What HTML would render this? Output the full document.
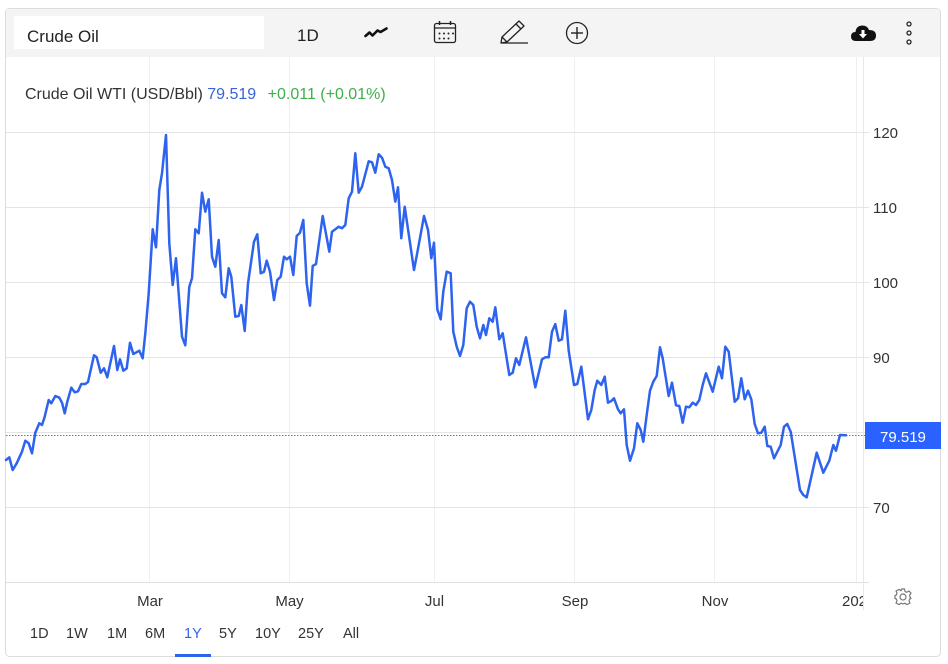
<!DOCTYPE html>
<html><head><meta charset="utf-8">
<style>
html,body{margin:0;padding:0;background:#fff;}
svg{display:block;font-family:"Liberation Sans",Arial,sans-serif;}
</style></head>
<body>
<svg width="948" height="664" viewBox="0 0 948 664" xmlns="http://www.w3.org/2000/svg">
  <rect x="5.5" y="8.5" width="935" height="648" rx="4" fill="#fff" stroke="#dcdcdc" stroke-width="1"/>
  <path d="M6 12 Q6 9 9 9 L937 9 Q940 9 940 12 L940 57 L6 57 Z" fill="#f4f4f4"/>
  <rect x="14" y="16" width="250" height="33" fill="#fff"/>
  <text x="27" y="42" font-size="17" fill="#222">Crude Oil</text>
  <text x="297" y="41" font-size="17" fill="#222">1D</text>
  <polyline points="365.5,36 369.5,32.5 372.5,35.5 377.5,30.5 380.5,32 386.5,28.5" fill="none" stroke="#111" stroke-width="2.6" stroke-linejoin="round" stroke-linecap="round"/>
  <rect x="434.5" y="23.5" width="21" height="19" rx="2" fill="none" stroke="#222" stroke-width="1.3"/>
  <line x1="434.5" y1="28" x2="455.5" y2="28" stroke="#222" stroke-width="1.3"/>
  <line x1="439.5" y1="21" x2="439.5" y2="25" stroke="#222" stroke-width="1.5"/>
  <line x1="450.5" y1="21" x2="450.5" y2="25" stroke="#222" stroke-width="1.5"/>
  <g fill="#222">
    <circle cx="439.5" cy="33.5" r="1"/><circle cx="444" cy="33.5" r="1"/><circle cx="448.5" cy="33.5" r="1"/><circle cx="453" cy="33.5" r="1"/>
    <circle cx="439.5" cy="38.5" r="1"/><circle cx="444" cy="38.5" r="1"/><circle cx="448.5" cy="38.5" r="1"/>
  </g>
  <g fill="none" stroke="#222" stroke-width="1.3" stroke-linejoin="round">
    <path d="M501 43 L502 37 L519 21 L524 26 L507 42 Z"/>
    <line x1="502" y1="37" x2="507" y2="42"/>
    <line x1="516" y1="24" x2="521" y2="29"/>
    <line x1="501" y1="43" x2="528" y2="43"/>
  </g>
  <circle cx="577" cy="33" r="10.5" fill="none" stroke="#222" stroke-width="1.3"/>
  <line x1="571" y1="33" x2="583" y2="33" stroke="#222" stroke-width="1.4"/>
  <line x1="577" y1="27" x2="577" y2="39" stroke="#222" stroke-width="1.4"/>
  <path d="M856 41 Q851 41 851 36.5 Q851 32 855.5 32 Q856 26 862 25.5 Q867.5 25.5 869 30 Q876 30 876 35.5 Q876 41 870 41 Z" fill="#111"/>
  <path d="M861.5 30 L864.5 30 L864.5 34 L867 34 L863 38.5 L859 34 L861.5 34 Z" fill="#fff"/>
  <g fill="none" stroke="#222" stroke-width="1.3">
    <circle cx="909" cy="24" r="2"/><circle cx="909" cy="33" r="2"/><circle cx="909" cy="42" r="2"/>
  </g>

  <g stroke="#eef1f4" stroke-width="1">
    <line x1="149.5" y1="57" x2="149.5" y2="582"/>
    <line x1="289.5" y1="57" x2="289.5" y2="582"/>
    <line x1="434.5" y1="57" x2="434.5" y2="582"/>
    <line x1="574.5" y1="57" x2="574.5" y2="582"/>
    <line x1="714.5" y1="57" x2="714.5" y2="582"/>
    <line x1="856.5" y1="57" x2="856.5" y2="582"/>
  </g>
  <g stroke="#e4e4e4" stroke-width="1">
    <line x1="6" y1="132.5" x2="869" y2="132.5"/>
    <line x1="6" y1="207.5" x2="869" y2="207.5"/>
    <line x1="6" y1="282.5" x2="869" y2="282.5"/>
    <line x1="6" y1="357.5" x2="869" y2="357.5"/>
    <line x1="6" y1="432.5" x2="869" y2="432.5"/>
    <line x1="6" y1="507.5" x2="869" y2="507.5"/>
  </g>
  <line x1="6" y1="582.5" x2="869" y2="582.5" stroke="#e0e0e0" stroke-width="1"/>
  <line x1="863.5" y1="57" x2="863.5" y2="610" stroke="#e6e9ec" stroke-width="1"/>

  <text x="25" y="99" font-size="16" fill="#333">Crude Oil WTI (USD/Bbl) <tspan fill="#3a64d8">79.519</tspan> <tspan dx="7" fill="#3cb04a">+0.011 (+0.01%)</tspan></text>

  <line x1="6" y1="435.5" x2="865" y2="435.5" stroke="#5577dd" stroke-width="1" stroke-dasharray="1.5,1.5"/>

  <polyline fill="none" stroke="#2d63ee" stroke-width="2.5" stroke-linejoin="round" stroke-linecap="round" points="6,460 9.3,457.3 12.7,470 16.7,463.3 22,451.7 25.3,440.7 28.7,443.3 32,453.3 35.3,432.7 39.3,423.3 42,425 44.7,416.7 48.7,400 51.3,403.3 55.3,396 59.3,397.7 62,402.7 64.7,413.3 67.3,401.7 71.3,387.7 74.7,392.3 78,391.3 81.3,384 85.3,384 88,382 94,355.3 96.7,357.3 100.7,372.7 104,368.3 107.3,377.3 114,346 117.3,370 120,359.3 123.3,370.7 126.7,368.3 130,342.7 133.3,354 139.3,350.7 142.7,358.3 145.3,333.3 148.7,293.3 152.7,229.3 156,247.3 159.3,190 162,173.3 166,135 169.3,243.3 172.7,285 176,258.3 182,336.7 185.3,345.3 189.3,286.7 192,278.3 195.3,229.3 198.7,233.3 202,192.7 205.3,211.7 208.7,199.3 212,256.7 215.3,266.7 218.7,240 222,293.3 225.3,297.3 228.7,268.3 231.3,276.7 235.3,316.7 238.7,316 241.3,305 244.7,331 248,283.3 254,241.7 257.3,234.3 260.7,273.3 264,271.7 266.7,260.7 270,271.7 274,300 277.3,280 280.7,276.7 284,256.7 286.7,259.3 290,256.7 293.3,275 296.7,236 300,232.7 303.3,220 306.7,283.3 310,305.7 312.7,266 316,264 322.7,216 329.3,251.7 332,231.7 338.7,226.7 342,228.3 345.3,225 348.7,198.3 352,191.7 355.3,153.3 358.7,192.7 362,186.7 368.7,161.3 372,162.3 375.3,172.7 378.7,154.3 382,157.7 385.3,166.7 388.7,168.3 392,180 395.3,201.7 398,187.3 401.3,238.3 404.7,206.7 414,270 417.3,252.7 424,216 428,230 431.3,258.3 434,242.7 437.3,309.3 440.7,319.3 443.3,291.7 446.7,271.7 450.7,273.3 453.3,331.7 456.7,346.7 460,356 463.3,345 466.7,308.3 470,301.7 473.3,305 476.7,326.7 480,338.3 483.3,325 486,335 489.3,318.3 492.7,321.7 495.3,307.3 499.3,339.3 502.7,333.3 509.3,375 512.7,372.7 516,358.3 519.3,365 526,337.3 535.3,387.3 542,359.3 545.3,357.3 548.7,357.3 552,331.7 555.3,324 558.7,340.7 562,339.3 565.3,310.7 568.7,350.7 574,385 577.3,384 581.3,366.7 588,419.3 591.3,410 594.7,390 597.3,380.7 601.3,385 604.7,376.7 608,402.7 611.3,401 614,398.3 618,409.3 620.7,413.3 624,409.3 626.7,445 630,460.7 634,448.3 637.3,423.3 640.7,430 643.3,441.7 646.7,415 650,390.7 653.3,381.7 656.7,376 660,347.3 662.7,358.3 668.7,396 672,382.7 676,405.3 679.3,406 682.7,422.7 686,406.7 689.3,407.3 692.7,402.7 696,405 699.3,400 702.7,385 706,373.3 712.7,391.7 718.7,366.7 722,378.3 725.3,346.7 728.7,351.7 734.7,401.7 738,398.3 741.3,378.3 744.7,399.3 748,390.7 751.3,399.3 754.7,424 758,433.3 761.3,432.7 764.7,426.7 767.3,446 770.7,446.7 774,458.3 780.7,445 784,426.7 787.3,424 790.7,431.7 800,490 803.3,495 806.7,497.3 816.7,452.7 823.3,472.7 829.3,460.7 833.3,445 836,450.7 840,435 846,435.3"/>

  <g font-size="15" fill="#333">
    <text x="873" y="138">120</text>
    <text x="873" y="213">110</text>
    <text x="873" y="288">100</text>
    <text x="873" y="363">90</text>
    <text x="873" y="513">70</text>
  </g>
  <rect x="865" y="422" width="76" height="27" fill="#2962ff"/>
  <text x="880" y="442" font-size="15" fill="#fff">79.519</text>

  <g font-size="15" fill="#333" text-anchor="middle">
    <text x="150" y="606">Mar</text>
    <text x="289.5" y="606">May</text>
    <text x="434.5" y="606">Jul</text>
    <text x="575" y="606">Sep</text>
    <text x="715" y="606">Nov</text>
  </g>
  <svg x="0" y="585" width="863" height="30" overflow="hidden">
    <text x="842" y="21" font-size="15" fill="#333">2023</text>
  </svg>

  <g transform="translate(903,597)" fill="none" stroke="#777" stroke-width="1.2">
    <path d="M-1.5,-8 L1.5,-8 L2,-5.6 L3.9,-4.7 L6,-6 L8,-3.9 L6.6,-1.9 L7,0 L8,1.5 L8,1.5 L6.6,2 L6,4 L7,6 L4,7.6 L2,6.2 L0,7 L-2,6.2 L-4,7.6 L-7,6 L-6,4 L-6.6,2 L-8,1.5 L-8,-1.5 L-6.6,-2 L-6,-4 L-7,-6 L-4,-7.6 L-2,-6.2 Z" stroke-linejoin="round"/>
    <circle cx="0" cy="0" r="3"/>
  </g>

  <g font-size="14.5" fill="#333">
    <text x="30" y="638">1D</text>
    <text x="66" y="638">1W</text>
    <text x="107" y="638">1M</text>
    <text x="145" y="638">6M</text>
    <text x="184" y="638" fill="#2f63ee">1Y</text>
    <text x="219" y="638">5Y</text>
    <text x="255" y="638">10Y</text>
    <text x="298" y="638">25Y</text>
    <text x="343" y="638">All</text>
  </g>
  <rect x="175" y="654" width="36" height="3" fill="#2f63ee"/>
</svg>
</body></html>
